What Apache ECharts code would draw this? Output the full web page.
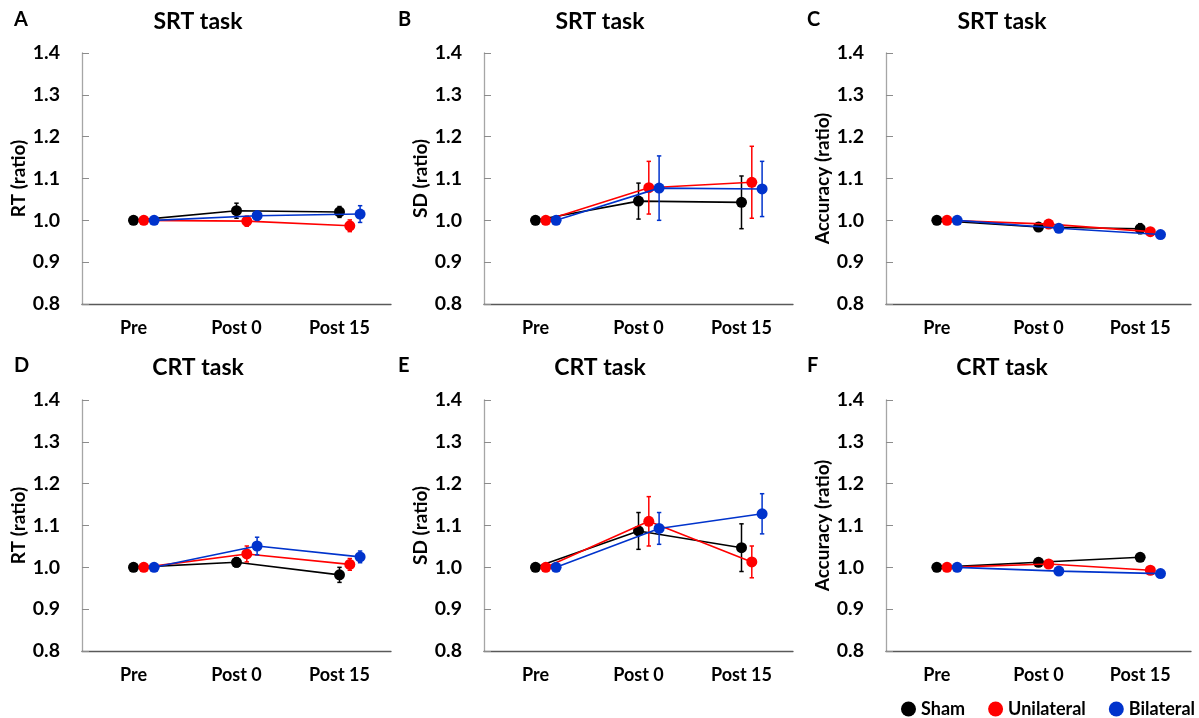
<!DOCTYPE html>
<html>
<head>
<meta charset="utf-8">
<script src="https://cdn.jsdelivr.net/npm/echarts@6/dist/echarts.min.js"></script>
<style>
html,body{margin:0;padding:0;background:#fff;}
#chart{width:1199px;height:718px;}
</style>
</head>
<body>
<div id="chart"></div>
<script>
// ---- data ----
const timepoints = ['Pre', 'Post 0', 'Post 15'];
const groups = ['Sham', 'Unilateral', 'Bilateral'];
const groupColors = ['#000000', '#FF0000', '#0033CC'];
const yTicks = [0.8, 0.9, 1.0, 1.1, 1.2, 1.3, 1.4];

const panelLetters = ['A', 'B', 'C', 'D', 'E', 'F'];
const panelTitles = ['SRT task', 'SRT task', 'SRT task', 'CRT task', 'CRT task', 'CRT task'];
const panelYNames = ['RT (ratio)', 'SD (ratio)', 'Accuracy (ratio)', 'RT (ratio)', 'SD (ratio)', 'Accuracy (ratio)'];

// means per group [Sham, Unilateral, Bilateral] over timepoints
const srtRT_mean = [[1.000, 1.023, 1.020], [1.000, 0.998, 0.987], [1.000, 1.011, 1.015]];
const srtRT_err  = [[0, 0.018, 0.013], [0, 0.012, 0.014], [0, 0.011, 0.020]];
const srtSD_mean = [[1.000, 1.046, 1.043], [1.000, 1.078, 1.091], [1.000, 1.077, 1.075]];
const srtSD_err  = [[0, 0.043, 0.063], [0, 0.063, 0.086], [0, 0.077, 0.066]];
const srtAcc_mean = [[1.000, 0.984, 0.980], [1.000, 0.991, 0.973], [1.000, 0.981, 0.966]];
const srtAcc_err  = [[0, 0.005, 0.012], [0, 0.004, 0.008], [0, 0.004, 0.004]];
const crtRT_mean = [[1.000, 1.012, 0.982], [1.000, 1.032, 1.007], [1.000, 1.051, 1.025]];
const crtRT_err  = [[0, 0.011, 0.018], [0, 0.019, 0.014], [0, 0.021, 0.014]];
const crtSD_mean = [[1.000, 1.087, 1.047], [1.000, 1.110, 1.013], [1.000, 1.093, 1.128]];
const crtSD_err  = [[0, 0.044, 0.057], [0, 0.059, 0.038], [0, 0.038, 0.048]];
const crtAcc_mean = [[1.000, 1.012, 1.024], [1.000, 1.008, 0.993], [1.000, 0.991, 0.985]];
const crtAcc_err  = [[0, 0.003, 0.003], [0, 0.003, 0.003], [0, 0.004, 0.003]];

const panelMeans = [srtRT_mean, srtSD_mean, srtAcc_mean, crtRT_mean, crtSD_mean, crtAcc_mean];
const panelErrs = [srtRT_err, srtSD_err, srtAcc_err, crtRT_err, crtSD_err, crtAcc_err];

// ---- layout ----
const FONT = 'Lato, "Open Sans", sans-serif';
const gridLefts = [82, 484, 886];
const gridWidths = [309, 309, 305];
const gridTops = [53, 400];
const gridHeight = 251;
const groupOffset = [0, 0.1, 0.2]; // horizontal dodge within a timepoint

const grids = [], xAxes = [], yAxes = [], series = [], graphics = [];

for (let p = 0; p < 6; p++) {
  const col = p % 3, row = Math.floor(p / 3);
  grids.push({ left: gridLefts[col], top: gridTops[row], width: gridWidths[col], height: gridHeight, containLabel: false });
  xAxes.push({
    gridIndex: p, type: 'value', min: 0, max: 3, interval: 0.5,
    splitLine: { show: false }, axisTick: { show: false },
    axisLine: { show: true, lineStyle: { color: '#595959', width: 1.3 } },
    axisLabel: {
      margin: 15, fontFamily: FONT, fontWeight: 'bold', fontSize: 18, color: '#000',
      formatter: function (v) {
        const i = Math.round(v - 0.5);
        return (Math.abs(v - 0.5 - i) < 1e-6 && i >= 0 && i < timepoints.length) ? timepoints[i] : '';
      }
    }
  });
  yAxes.push({
    gridIndex: p, type: 'value', min: yTicks[0], max: yTicks[yTicks.length - 1], interval: 0.1,
    splitLine: { show: false },
    axisLine: { show: true, lineStyle: { color: '#a6a6a6', width: 1.3 } },
    axisTick: { show: true, inside: true, length: 7, lineStyle: { color: '#8c8c8c' } },
    axisLabel: { margin: 22, fontFamily: FONT, fontWeight: 'bold', fontSize: 19.5, color: '#000',
      formatter: v => v.toFixed(1) },
    name: panelYNames[p], nameLocation: 'middle', nameGap: 53,
    nameTextStyle: { fontFamily: FONT, fontWeight: 'bold', fontSize: 19, color: '#000' }
  });

  for (let g = 0; g < 3; g++) {
    const pts = timepoints.map((t, i) => [i + 0.5 + groupOffset[g], panelMeans[p][g][i], panelErrs[p][g][i]]);
    series.push({
      type: 'custom', xAxisIndex: p, yAxisIndex: p, name: groups[g] + ' SE',
      data: pts, encode: { x: 0, y: 1 }, z: 2 + g * 2,
      renderItem: function (params, api) {
        const x = api.value(0), y = api.value(1), e = api.value(2);
        if (!e) return null;
        const top = api.coord([x, y + e]), bot = api.coord([x, y - e]);
        const c = groupColors[g], hw = 2.2;
        const st = { stroke: c, lineWidth: 1.5 };
        return { type: 'group', children: [
          { type: 'line', shape: { x1: top[0], y1: top[1], x2: bot[0], y2: bot[1] }, style: st },
          { type: 'line', shape: { x1: top[0] - hw, y1: top[1], x2: top[0] + hw, y2: top[1] }, style: st },
          { type: 'line', shape: { x1: bot[0] - hw, y1: bot[1], x2: bot[0] + hw, y2: bot[1] }, style: st }
        ]};
      }
    });
    series.push({
      type: 'line', name: groups[g], xAxisIndex: p, yAxisIndex: p,
      data: pts.map(d => [d[0], d[1]]),
      symbol: 'circle', symbolSize: 11, z: 3 + g * 2,
      lineStyle: { color: groupColors[g], width: 1.6 },
      itemStyle: { color: groupColors[g] },
      emphasis: { disabled: true }, animation: false
    });
  }

  const letterX = [14, 398, 807][col];
  const rowY = [22, 368][row];
  graphics.push({ type: 'text', left: letterX, top: rowY - 12,
    style: { text: panelLetters[p], font: 'bold 20px ' + FONT, fill: '#000' } });
  graphics.push({ type: 'text', x: gridLefts[col] + 116, y: rowY,
    style: { text: panelTitles[p], font: 'bold 23px ' + FONT, fill: '#000', textAlign: 'center', textVerticalAlign: 'middle' } });
}

const chart = echarts.init(document.getElementById('chart'), null, { renderer: 'canvas' });
chart.setOption({
  backgroundColor: '#fff',
  animation: false,
  grid: grids, xAxis: xAxes, yAxis: yAxes, series: series, graphic: graphics,
  legend: {
    data: groups, right: 4, top: 700, padding: 0, icon: 'circle', itemWidth: 15, itemHeight: 15, itemGap: 23,
    textStyle: { fontFamily: FONT, fontWeight: 'bold', fontSize: 18, color: '#000' }
  }
});
</script>
</body>
</html>
